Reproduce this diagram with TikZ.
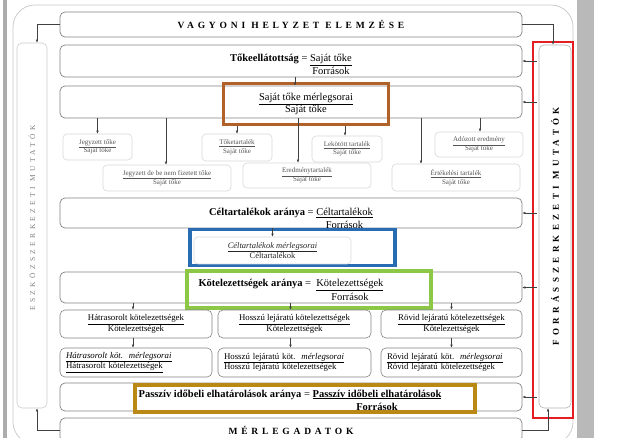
\documentclass[tikz,border=0pt]{standalone}
\usepackage{fontspec}
\setmainfont{Liberation Serif}
\usetikzlibrary{arrows.meta,positioning}

\definecolor{brownhl}{RGB}{178,98,40}
\definecolor{bluehl}{RGB}{40,108,180}
\definecolor{greenhl}{RGB}{140,200,70}
\definecolor{goldhl}{RGB}{186,136,20}
\definecolor{redhl}{RGB}{228,28,36}
\definecolor{framegray}{RGB}{130,130,130}
\definecolor{lightframe}{RGB}{215,215,215}
\definecolor{subtext}{RGB}{85,85,85}

\tikzset{
  rowbox/.style={draw=framegray, line width=0.7pt, rounded corners=5pt,
    minimum width=462pt, inner sep=0pt},
  rowtext/.style={anchor=base, inner sep=0pt, font=\fontsize{10.5}{13}\selectfont},
  subbox/.style={draw=lightframe, line width=0.6pt, rounded corners=4pt,
    inner sep=0pt, align=center, text=subtext, font=\fontsize{7}{8.6}\selectfont},
  kotbox/.style={draw=framegray, line width=0.6pt, rounded corners=5pt,
    inner sep=0pt, align=center, font=\fontsize{8.8}{10.6}\selectfont},
  hl/.style={draw=#1, line width=3.5pt, inner sep=0pt},
  spaced/.style={font=\fontsize{9.5}{11}\selectfont\bfseries\addfontfeature{LetterSpace=40}},
  arr/.style={-{Latex[length=3pt,width=2.6pt]}, line width=0.5pt, draw=black!75},
}

\begin{document}
\begin{tikzpicture}[x=1pt, y=-1pt]
  \useasboundingbox (0,0) rectangle (632,438);

  % page strips and outer frame
  \fill[gray!65] (3,0) rectangle (7,438);
  \fill[gray!55] (577,0) rectangle (594,438);
  \draw[gray!45, line width=0.7pt, rounded corners=22pt] (13,5) rectangle (573,444);

  % main rows
  \node[rowbox, spaced, minimum height=25pt] (title) at (291,24.5) {VAGYONI HELYZET ELEMZÉSE};
  \node[rowbox, minimum height=32pt] (toke) at (291,61) {};
  \node[rowtext] (tokelbl) at (291,61.5)
    {\textbf{Tőkeellátottság} = \begin{tabular}[t]{@{}c@{}}\underline{Saját tőke}\\Források\end{tabular}};
  \node[rowbox, minimum height=32pt] (sajatrow) at (291,102) {};
  \node[hl=brownhl, minimum width=165pt, minimum height=41pt, align=center,
    font=\fontsize{10.5}{12}\selectfont] (sajat) at (306,104)
    {\underline{Saját tőke mérlegsorai}\\Saját tőke};

  % equity items
  \node[subbox, minimum width=69pt, minimum height=26pt] (jegyzett) at (97.5,147) {\underline{Jegyzett tőke}\\Saját tőke};
  \node[subbox, minimum width=70pt, minimum height=27pt] (toketart) at (237,147.5) {\underline{Tőketartalék}\\Saját tőke};
  \node[subbox, minimum width=70pt, minimum height=26pt] (lekotott) at (347,149) {\underline{Lekötött tartalék}\\Saját tőke};
  \node[subbox, minimum width=88pt, minimum height=25pt] (adozott) at (479,144.5) {\underline{Adózott eredmény}\\Saját tőke};
  \node[subbox, minimum width=128pt, minimum height=26pt] (jegyzettde) at (167,178) {\underline{Jegyzett de be nem fizetett tőke}\\Saját tőke};
  \node[subbox, minimum width=128pt, minimum height=25pt] (eredmeny) at (307,175.5) {\underline{Eredménytartalék}\\Saját tőke};
  \node[subbox, minimum width=128pt, minimum height=27pt] (ertekelesi) at (456,177.5) {\underline{Értékelési tartalék}\\Saját tőke};

  % provisions
  \node[rowbox, minimum height=30pt] (cel) at (291,213) {};
  \node[rowtext] (cellbl) at (291,216)
    {\textbf{Céltartalékok aránya} = \begin{tabular}[t]{@{}c@{}}\underline{Céltartalékok}\\Források\end{tabular}};
  \node[hl=bluehl, minimum width=205pt, minimum height=36pt] (celhl) at (292.5,247.5) {};
  \node[subbox, draw=gray!30, text=black!85, font=\fontsize{8.5}{10.5}\selectfont,
    minimum width=157pt, minimum height=27pt] (celsor) at (272.5,250.5)
    {\textit{\underline{Céltartalékok mérlegsorai}}\\Céltartalékok};

  % liabilities
  \node[rowbox, minimum height=31pt] (kot) at (291,287.5) {};
  \node[rowtext] (kotlbl) at (291,287)
    {\textbf{Kötelezettségek aránya} =\ \ \begin{tabular}[t]{@{}c@{}}\underline{Kötelezettségek}\\Források\end{tabular}};
  \node[hl=greenhl, minimum width=244pt, minimum height=37pt] (kothl) at (309,289.5) {};

  \node[kotbox, minimum width=152pt, minimum height=28pt] (hatra) at (136,324) {\underline{Hátrasorolt kötelezettségek}\\Kötelezettségek};
  \node[kotbox, minimum width=153pt, minimum height=28pt] (hosszu) at (294.5,324) {\underline{Hosszú lejáratú kötelezettségek}\\Kötelezettségek};
  \node[kotbox, minimum width=141pt, minimum height=28pt] (rovid) at (451.5,324) {\underline{Rövid lejáratú kötelezettségek}\\Kötelezettségek};

  \node[kotbox, align=left, inner xsep=6pt, text width=140pt, minimum height=29pt] (hatrasor) at (136,362.5)
    {\underline{\textit{Hátrasorolt köt.\ \ mérlegsorai}}\\\underline{Hátrasorolt kötelezettségek}};
  \node[kotbox, align=left, inner xsep=6pt, text width=141pt, minimum height=29pt] (hosszusor) at (294.5,362.5)
    {\underline{Hosszú lejáratú köt.\ \ \textit{mérlegsorai}}\\Hosszú lejáratú kötelezettségek};
  \node[kotbox, align=left, inner xsep=6pt, text width=129pt, minimum height=29pt] (rovidsor) at (451.5,362.5)
    {\underline{Rövid lejáratú köt.\ \ \textit{mérlegsorai}}\\Rövid lejáratú kötelezettségek};

  % accruals
  \node[rowbox, minimum height=28pt] (passziv) at (291,397) {};
  \node[rowtext] (passzivlbl) at (290,397)
    {\textbf{Passzív időbeli elhatárolások aránya} = \begin{tabular}[t]{@{}c@{}}\textbf{\underline{Passzív időbeli elhatárolások}}\\\textbf{Források}\end{tabular}};
  \node[hl=goldhl, line width=4pt, minimum width=340pt, minimum height=27pt] (passzivhl) at (305,398.5) {};

  \node[rowbox, spaced, minimum height=24pt] (merleg) at (291,430) {MÉRLEGADATOK};

  % side columns
  \node[draw=gray!40, line width=0.6pt, rounded corners=5pt, minimum width=30pt, minimum height=365pt] (eszkoz) at (32,225.5) {};
  \node[rotate=90, text=gray, font=\fontsize{7.5}{9}\selectfont\addfontfeature{LetterSpace=45}] (eszkozlbl) at (32,218) {ESZKÖZSZERKEZETI MUTATÓK};
  \node[hl=redhl, line width=2.5pt, minimum width=40pt, minimum height=376pt] (forrashl) at (553,230) {};
  \node[draw=gray!60, line width=0.6pt, rounded corners=5pt, minimum width=32pt, minimum height=363pt] (forras) at (555,226.5) {};
  \node[rotate=90, font=\fontsize{9}{10}\selectfont\bfseries\addfontfeature{LetterSpace=48}] (forraslbl) at (forras.center) {FORRÁSSZERKEZETI MUTATÓK};

  % connectors
  \draw[arr] (title.west) -| ([xshift=5pt]eszkoz.north);
  \draw[arr] (merleg.west) -| ([xshift=5pt]eszkoz.south);
  \draw[arr] (title.east) -| ([xshift=-2pt]forras.north);
  \draw[arr] (merleg.east) -| ([xshift=-7pt]forras.south);
  \foreach \n in {toke, sajatrow, cel, kot, passziv}
    \draw[arr] ([xshift=-2pt]forras.west |- \n.east) -- (\n.east);

  \draw[arr] ([xshift=4pt]toke.south) -- ([xshift=4pt]toke.south |- sajatrow.north);
  \foreach \n/\dx in {jegyzett/0, jegyzettde/-1, eredmeny/-9, ertekelesi/-35, adozott/1}
    \draw[arr] ([xshift=\dx pt]\n.north |- sajatrow.south) -- ([xshift=\dx pt]\n.north);
  \foreach \n/\dx in {toketart/0, lekotott/-2}
    \draw[arr] ([xshift=\dx pt]\n.north |- sajat.south) -- ([xshift=\dx pt]\n.north);

  \draw[arr] (celsor.north |- cel.south) -- (celsor.north);

  \foreach \n/\m/\dx in {hatra/hatrasor/-3, hosszu/hosszusor/-4, rovid/rovidsor/0} {
    \draw[arr] ([xshift=\dx pt]\n.north |- kot.south) -- ([xshift=\dx pt]\n.north);
    \draw[arr] ([xshift=\dx pt]\n.south) -- ([xshift=\dx pt]\m.north);
  }
\end{tikzpicture}
\end{document}
